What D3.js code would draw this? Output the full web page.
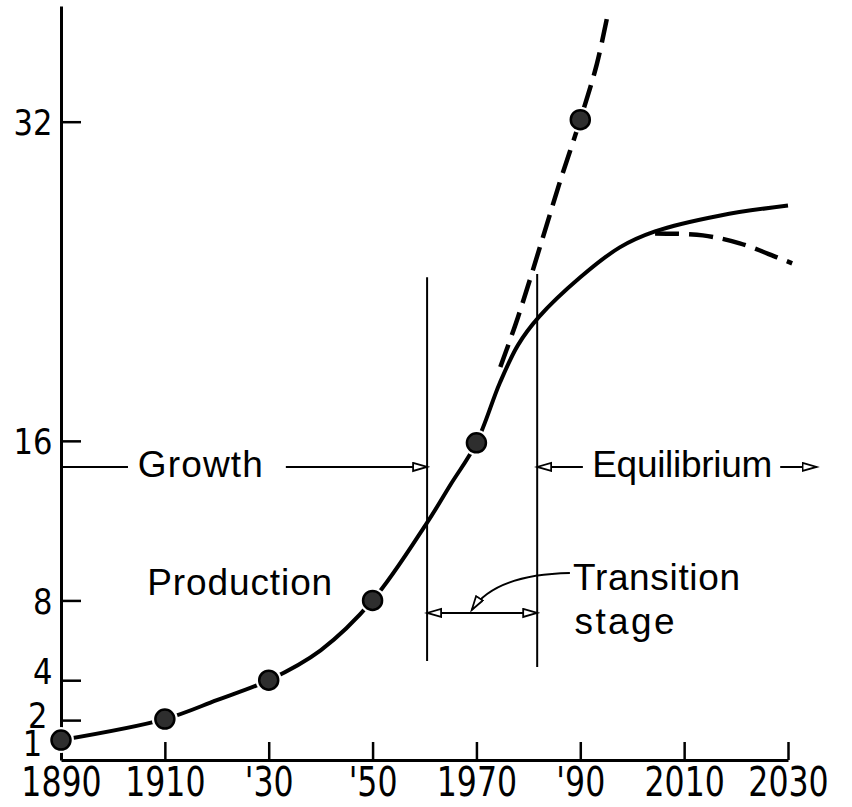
<!DOCTYPE html>
<meta charset="utf-8">
<style>
body { margin: 0; background: #fff; }
.axis path, .axis line { stroke: #000; }
.axis text { fill: #000; font-family: "DejaVu Sans", sans-serif; }
.note { fill: #000; font-family: "Liberation Sans", Arial, sans-serif; font-size: 37px; }
.guide { stroke: #000; stroke-width: 2; fill: none; }
</style>
<svg width="852" height="807"></svg>
<script src="https://cdn.jsdelivr.net/npm/d3@7"></script>
<script>

// measured production (the dots)
var pointYears  = [1890, 1910, 1930, 1950, 1970, 1990];
var pointValues = [1, 2.05, 4, 8, 15.9, 32.1];

// fitted S-curve (solid)
var curveYears  = [1890, 1910, 1920, 1930, 1940, 1950, 1960.5, 1965, 1970, 1974.5, 1978, 1982, 1990, 1997.6, 2004.4, 2017, 2030];
var curveValues = [1, 2.05, 3.0, 4, 5.5, 8, 11.9, 13.8, 15.9, 18.9, 20.8, 22.2, 24.2, 25.7, 26.5, 27.3, 27.8];

// exponential continuation (dashed, upper)
var expYears  = [1974.6, 1978, 1982.8, 1986.1, 1990, 1993.2, 1995.3];
var expValues = [19.7, 22.2, 26.2, 29.0, 32.1, 34.9, 37.4];

// declining alternative (dashed, lower)
var declYears  = [2004.4, 2013.6, 2020.7, 2027.9, 2030.8];
var declValues = [26.4, 26.3, 25.9, 25.2, 24.9];

// axis ticks
var xTicks      = [1890, 1910, 1930, 1950, 1970, 1990, 2010, 2030];
var xTickLabels = ["1890", "1910", "'30", "'50", "1970", "'90", "2010", "2030"];
var yTicks      = [1, 2, 4, 8, 16, 32];

// stage boundaries (years)
var stageBounds = [1960.5, 1981.7];

var svg = d3.select("svg");

var x = d3.scaleLinear().domain([1890, 2030]).range([61, 788]);
var y = d3.scaleLinear().domain([0, 37.8]).range([760, 6]);

// arrow head
var defs = svg.append("defs");
defs.append("marker")
    .attr("id", "arrow")
    .attr("markerUnits", "userSpaceOnUse")
    .attr("markerWidth", 18).attr("markerHeight", 12)
    .attr("refX", 15).attr("refY", 5)
    .attr("orient", "auto-start-reverse")
  .append("path")
    .attr("d", "M1,1 L15,5 L1,9 Z")
    .attr("fill", "#fff")
    .attr("stroke", "#000")
    .attr("stroke-width", 1.8);

// axes
var xAxis = d3.axisBottom(x)
    .tickValues(xTicks)
    .tickFormat(function(d) { return xTickLabels[xTicks.indexOf(d)]; })
    .tickSizeInner(-18)
    .tickSizeOuter(0);

var gx = svg.append("g")
    .attr("class", "axis")
    .attr("transform", "translate(0," + y(0) + ")")
    .call(xAxis);
gx.select(".domain").attr("stroke-width", 3);
gx.selectAll(".tick line").attr("stroke-width", 2.5);
gx.selectAll(".tick text")
    .attr("y", 36).attr("dy", 0)
    .attr("font-size", 41)
    .attr("transform", "scale(0.77,1)");

var yAxis = d3.axisLeft(y)
    .tickValues(yTicks)
    .tickSizeInner(-20)
    .tickSizeOuter(0)
    .tickPadding(10);

var gy = svg.append("g")
    .attr("class", "axis")
    .attr("transform", "translate(" + x(1890) + ",0)")
    .call(yAxis);
gy.select(".domain").attr("stroke-width", 3);
gy.selectAll(".tick line").attr("stroke-width", 2.5);
gy.selectAll(".tick").filter(function(d) { return d === 1; }).select("line").remove();

// the low labels are spread apart as in the hand lettering
var yLabelShift = { 1: [-12, 2], 2: [-6, -6], 4: [0, -10] };
gy.selectAll(".tick text")
    .attr("font-size", 36)
    .attr("dy", "0.36em")
    .attr("x", function(d) { return -10 + (yLabelShift[d] ? yLabelShift[d][0] : 0); })
    .attr("y", function(d) { return yLabelShift[d] ? yLabelShift[d][1] : 0; })
    .attr("transform", "scale(0.85,1)");

// curves
var line = d3.line()
    .x(function(d) { return x(d[0]); })
    .y(function(d) { return y(d[1]); })
    .curve(d3.curveCatmullRom.alpha(0.5));

function pairs(xs, ys) { return xs.map(function(v, i) { return [v, ys[i]]; }); }

svg.append("path")
    .datum(pairs(curveYears, curveValues))
    .attr("d", line)
    .attr("fill", "none")
    .attr("stroke", "#000")
    .attr("stroke-width", 4);

svg.append("path")
    .datum(pairs(expYears, expValues))
    .attr("d", line)
    .attr("fill", "none")
    .attr("stroke", "#000")
    .attr("stroke-width", 4.5)
    .attr("stroke-dasharray", "24,10");

svg.append("path")
    .datum(pairs(declYears, declValues))
    .attr("d", line)
    .attr("fill", "none")
    .attr("stroke", "#000")
    .attr("stroke-width", 4.5)
    .attr("stroke-dasharray", "24,10");

// stage boundaries
svg.append("line").attr("class", "guide")
    .attr("x1", x(stageBounds[0])).attr("x2", x(stageBounds[0]))
    .attr("y1", y(24.2)).attr("y2", y(4.96));
svg.append("line").attr("class", "guide")
    .attr("x1", x(stageBounds[1])).attr("x2", x(stageBounds[1]))
    .attr("y1", y(24.36)).attr("y2", y(4.66));

// Growth
var rowY = 14.69;
svg.append("line").attr("class", "guide")
    .attr("x1", x(1890)).attr("x2", x(1902.9))
    .attr("y1", y(rowY)).attr("y2", y(rowY));
svg.append("text").attr("class", "note")
    .attr("x", x(1904.8)).attr("y", y(14.19))
    .attr("textLength", 125)
    .text("Growth");
svg.append("line").attr("class", "guide")
    .attr("x1", x(1933.3)).attr("x2", x(stageBounds[0]))
    .attr("y1", y(rowY)).attr("y2", y(rowY))
    .attr("marker-end", "url(#arrow)");

// Equilibrium
svg.append("line").attr("class", "guide")
    .attr("x1", x(stageBounds[1])).attr("x2", x(1990.5))
    .attr("y1", y(rowY)).attr("y2", y(rowY))
    .attr("marker-start", "url(#arrow)");
svg.append("text").attr("class", "note")
    .attr("x", x(1992.3)).attr("y", y(14.19))
    .attr("textLength", 180)
    .text("Equilibrium");
svg.append("line").attr("class", "guide")
    .attr("x1", x(2028.5)).attr("x2", x(2035.5))
    .attr("y1", y(rowY)).attr("y2", y(rowY))
    .attr("marker-end", "url(#arrow)");

// Production
svg.append("text").attr("class", "note")
    .attr("x", x(1906.6)).attr("y", y(8.27))
    .attr("textLength", 185)
    .text("Production");

// Transition stage
svg.append("line").attr("class", "guide")
    .attr("x1", x(stageBounds[0])).attr("x2", x(stageBounds[1]))
    .attr("y1", y(7.37)).attr("y2", y(7.37))
    .attr("marker-start", "url(#arrow)")
    .attr("marker-end", "url(#arrow)");

var leader = d3.path();
leader.moveTo(x(1988.0), y(9.37));
leader.quadraticCurveTo(x(1973.6), y(9.3), x(1969.1), y(7.52));
svg.append("path").attr("class", "guide")
    .attr("d", leader.toString())
    .attr("marker-end", "url(#arrow)");

svg.append("text").attr("class", "note")
    .attr("x", x(1988.6)).attr("y", y(8.52))
    .attr("textLength", 167)
    .text("Transition");
svg.append("text").attr("class", "note")
    .attr("x", x(1988.9)).attr("y", y(6.32))
    .attr("textLength", 100)
    .text("stage");

// dots
var dots = svg.append("g")
    .selectAll("g")
    .data(pairs(pointYears, pointValues))
    .enter().append("g")
      .attr("transform", function(d) { return "translate(" + x(d[0]) + "," + y(d[1]) + ")"; });
dots.append("circle").attr("r", 13).attr("fill", "#fff");
dots.append("circle")
    .attr("r", 9.5)
    .attr("fill", "#2e2e2e")
    .attr("stroke", "#000")
    .attr("stroke-width", 2.5);

</script>
